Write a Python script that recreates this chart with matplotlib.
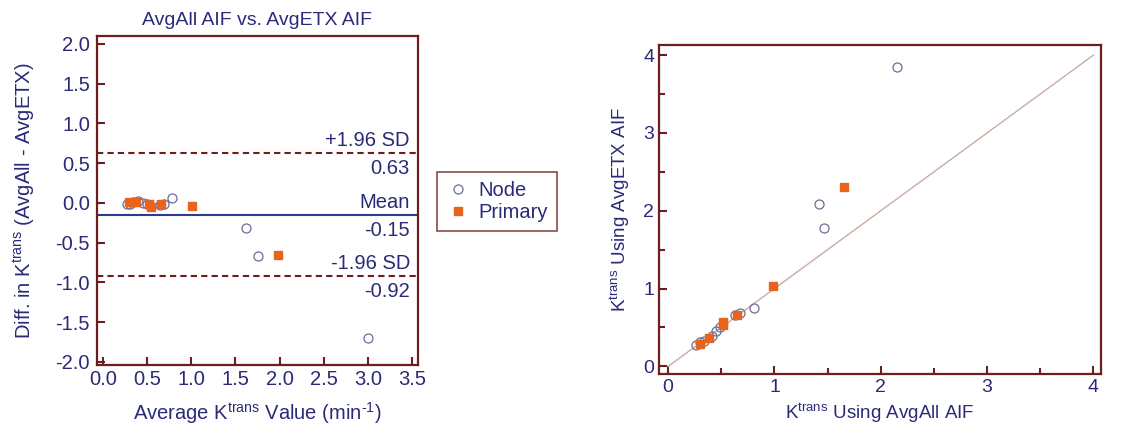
import numpy as np
import matplotlib
matplotlib.use('Agg')
import matplotlib.pyplot as plt
from matplotlib.lines import Line2D

plt.rcParams['font.family'] = ['Liberation Sans', 'DejaVu Sans']
plt.rcParams['mathtext.fontset'] = 'custom'
plt.rcParams['mathtext.rm'] = 'Liberation Sans'
plt.rcParams['mathtext.it'] = 'Liberation Sans:italic'
plt.rcParams['axes.unicode_minus'] = False

# Ktrans with AvgAll AIF (x) and AvgETX AIF (y)
node_all = [2.15, 1.42, 1.47, 0.81, 0.68, 0.63, 0.49, 0.45, 0.41, 0.34, 0.30, 0.26]
node_etx = [3.85, 2.09, 1.78, 0.755, 0.69, 0.66, 0.50, 0.45, 0.39, 0.33, 0.31, 0.27]
prim_all = [1.65, 0.99, 0.52, 0.52, 0.645, 0.38, 0.30]
prim_etx = [2.31, 1.03, 0.57, 0.53, 0.66, 0.37, 0.29]

# Bland-Altman limits as printed
mean_diff = -0.15
upper_loa = 0.63
lower_loa = -0.92

navy = '#2a2a78'
maroon = '#6e1c1c'
orange = '#e8641c'
circ = '#6c6c98'

node_all = np.array(node_all)
node_etx = np.array(node_etx)
prim_all = np.array(prim_all)
prim_etx = np.array(prim_etx)

fig = plt.figure(figsize=(11.21, 4.33), dpi=100)
ax1 = fig.add_axes([0.0865, 0.157, 0.2864, 0.76])
ax2 = fig.add_axes([0.588, 0.136, 0.394, 0.76])


def style(ax, size):
    for s in ax.spines.values():
        s.set_color(maroon)
        s.set_linewidth(1.6)
    ax.tick_params(which='both', direction='in', color=maroon, labelcolor=navy,
                   labelsize=size, width=1.5)
    ax.tick_params(which='major', length=6)
    ax.tick_params(which='minor', length=4)


# left: Bland-Altman
ax1.plot((node_all + node_etx) / 2, node_all - node_etx, 'o', ms=6.5, mfc='none',
         mec=circ, mew=0.9, ls='none')
ax1.plot((prim_all + prim_etx) / 2, prim_all - prim_etx, 's', ms=6, mfc=orange,
         mec=orange, ls='none')
ax1.axhline(mean_diff, color='#2e3a8c', lw=1.5)
ax1.axhline(upper_loa, color=maroon, lw=1.5, ls=(0, (3, 2)))
ax1.axhline(lower_loa, color=maroon, lw=1.5, ls=(0, (3, 2)))
for val, lab in [(upper_loa, '+1.96 SD'), (mean_diff, 'Mean'), (lower_loa, '-1.96 SD')]:
    ax1.text(0.975, val + 0.04, lab, transform=ax1.get_yaxis_transform(),
             ha='right', va='bottom', color=navy, fontsize=14.5)
    ax1.text(0.975, val - 0.08, f'{val:.2f}', transform=ax1.get_yaxis_transform(),
             ha='right', va='top', color=navy, fontsize=14.5)
ax1.set_xlim(-0.07, 3.57)
ax1.set_ylim(-2.04, 2.1)
ax1.set_xticks(np.arange(0, 3.51, 0.5))
ax1.set_yticks(np.arange(-2, 2.01, 0.5))
ax1.xaxis.set_major_formatter(matplotlib.ticker.FormatStrFormatter('%.1f'))
ax1.yaxis.set_major_formatter(matplotlib.ticker.FormatStrFormatter('%.1f'))
style(ax1, 14.5)
ax1.tick_params(axis='y', pad=5)
ax1.set_title('AvgAll AIF vs. AvgETX AIF', color=navy, fontsize=14, pad=8)
ax1.set_xlabel(r'Average K$^{\mathrm{trans}}$ Value (min$^{\text{-1}}$)', color=navy,
               fontsize=14.5, labelpad=8)
ax1.set_ylabel(r'Diff. in K$^{\mathrm{trans}}$ (AvgAll - AvgETX)', color=navy,
               fontsize=14.5, labelpad=13)

# right: scatter vs identity
ax2.plot([0, 4], [0, 4], color='#c9aba3', lw=1)
ax2.plot(node_all, node_etx, 'o', ms=6.5, mfc='none', mec=circ, mew=0.9, ls='none')
ax2.plot(prim_all, prim_etx, 's', ms=6, mfc=orange, mec=orange, ls='none')
ax2.set_xlim(-0.085, 4.07)
ax2.set_ylim(-0.1, 4.13)
ax2.set_xticks([0, 1, 2, 3, 4])
ax2.set_yticks([0, 1, 2, 3, 4])
ax2.set_xticks(np.arange(0.5, 4, 1), minor=True)
ax2.set_yticks(np.arange(0.5, 4, 1), minor=True)
style(ax2, 14)
ax2.set_xlabel(r'K$^{\mathrm{trans}}$ Using AvgAll AIF', color=navy, fontsize=13.5)
ax2.set_ylabel(r'K$^{\mathrm{trans}}$ Using AvgETX AIF', color=navy, fontsize=13.5,
               labelpad=8)

handles = [Line2D([], [], marker='o', ls='none', ms=6.5, mfc='none', mec=circ, mew=0.9),
           Line2D([], [], marker='s', ls='none', ms=6, mfc=orange, mec=orange)]
leg = fig.legend(handles, ['Node', 'Primary'], loc='upper left',
                 bbox_to_anchor=(437 / 1121, 1 - 172 / 433), fontsize=14.5,
                 frameon=True, fancybox=False, handletextpad=0.4, borderaxespad=0,
                 handlelength=1.2, borderpad=0.45, labelspacing=0.15)
leg.get_frame().set_edgecolor(maroon)
leg.get_frame().set_linewidth(1.2)
for t in leg.get_texts():
    t.set_color(navy)

fig.savefig('out.png', dpi=100)
